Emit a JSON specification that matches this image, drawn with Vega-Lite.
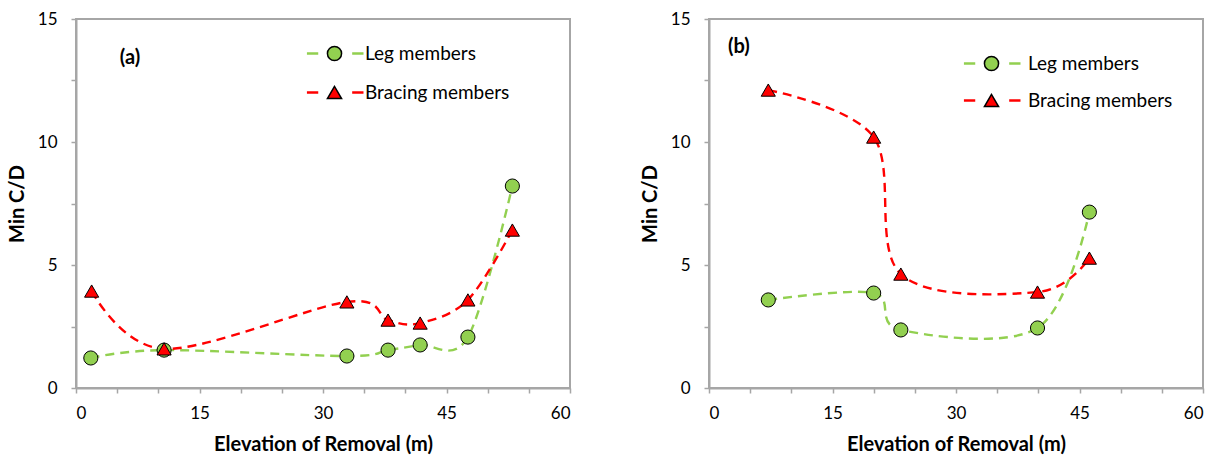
{
  "$schema": "https://vega.github.io/schema/vega-lite/v6.json",
  "padding": {"left": 6, "top": 9, "right": 5, "bottom": 5},
  "spacing": 67,
  "resolve": {
    "scale": {"stroke": "independent", "fill": "independent", "shape": "independent"},
    "legend": {"stroke": "independent", "fill": "independent", "shape": "independent"}
  },
  "config": {
    "font": "Lato",
    "view": {"stroke": "#a6a6a6", "strokeWidth": 2},
    "axis": {
      "domainColor": "#a6a6a6", "domainWidth": 2, "tickColor": "#a6a6a6", "tickWidth": 1.5, "tickSize": 5,
      "grid": false, "labelFont": "Lato", "labelFontSize": 17, "labelColor": "#000",
      "titleFont": "Lato", "titleFontSize": 20, "titleFontWeight": "bold", "titleColor": "#000"
    },
    "legend": {"labelFont": "Lato", "labelFontSize": 19, "labelColor": "#000", "title": null}
  },
  "datasets": {
    "pts": [
      {"panel": "a", "series": "Leg members", "x": 1.8, "y": 1.22},
      {"panel": "a", "series": "Leg members", "x": 10.7, "y": 1.54},
      {"panel": "a", "series": "Leg members", "x": 32.9, "y": 1.30},
      {"panel": "a", "series": "Leg members", "x": 37.9, "y": 1.54},
      {"panel": "a", "series": "Leg members", "x": 41.8, "y": 1.75},
      {"panel": "a", "series": "Leg members", "x": 47.6, "y": 2.07},
      {"panel": "a", "series": "Leg members", "x": 53.0, "y": 8.21},
      {"panel": "a", "series": "Bracing members", "x": 1.9, "y": 3.94},
      {"panel": "a", "series": "Bracing members", "x": 10.7, "y": 1.59},
      {"panel": "a", "series": "Bracing members", "x": 32.9, "y": 3.50},
      {"panel": "a", "series": "Bracing members", "x": 37.9, "y": 2.76},
      {"panel": "a", "series": "Bracing members", "x": 41.8, "y": 2.64},
      {"panel": "a", "series": "Bracing members", "x": 47.6, "y": 3.58},
      {"panel": "a", "series": "Bracing members", "x": 53.0, "y": 6.42},
      {"panel": "b", "series": "Leg members", "x": 7.2, "y": 3.58},
      {"panel": "b", "series": "Leg members", "x": 20.0, "y": 3.86},
      {"panel": "b", "series": "Leg members", "x": 23.3, "y": 2.36},
      {"panel": "b", "series": "Leg members", "x": 39.9, "y": 2.44},
      {"panel": "b", "series": "Leg members", "x": 46.2, "y": 7.15},
      {"panel": "b", "series": "Bracing members", "x": 7.2, "y": 12.11},
      {"panel": "b", "series": "Bracing members", "x": 20.0, "y": 10.2},
      {"panel": "b", "series": "Bracing members", "x": 23.3, "y": 4.63},
      {"panel": "b", "series": "Bracing members", "x": 39.9, "y": 3.9},
      {"panel": "b", "series": "Bracing members", "x": 46.2, "y": 5.28}
    ],
    "tags": [
      {"panel": "a", "t": "(a)", "x": 6.56, "y": 13.41},
      {"panel": "b", "t": "(b)", "x": 3.64, "y": 13.86}
    ]
  },
  "hconcat": [
    {
      "width": 494, "height": 369,
      "layer": [
        {
          "data": {"name": "pts"},
          "transform": [{"filter": "datum.panel === 'a'"}],
          "mark": {"type": "line", "interpolate": "cardinal", "strokeDash": [9, 6], "strokeWidth": 2.4},
          "encoding": {
            "x": {"field": "x", "type": "quantitative", "scale": {"domain": [0, 60], "nice": false},
                  "axis": {"values": [0,5,10,15,20,25,30,35,40,45,50,55,60], "labelExpr": "datum.value % 15 === 0 ? datum.label : ''", "labelPadding": 12, "titlePadding": 13, "title": "Elevation of Removal (m)"}},
            "y": {"field": "y", "type": "quantitative", "scale": {"domain": [0, 15], "nice": false},
                  "axis": {"values": [0,2.5,5,7.5,10,12.5,15], "labelExpr": "datum.value % 5 === 0 ? datum.label : ''", "labelPadding": 14, "titlePadding": 10, "title": "Min C/D"}},
            "stroke": {"field": "series", "type": "nominal", "scale": {"domain": ["Bracing members", "Leg members"], "range": ["#ff0000", "#92d050"]},
                       "legend": {"values": ["Leg members", "Bracing members"], "orient": "none", "legendX": 249, "legendY": 25, "rowPadding": 19, "symbolType": "M-3.9,0H-2.3M2.5,0H4.1", "symbolSize": 200, "symbolStrokeWidth": 2.5, "labelOffset": 21}}
          }
        },
        {
          "data": {"name": "pts"},
          "transform": [{"filter": "datum.panel === 'a'"}],
          "mark": {"type": "point", "filled": true, "stroke": "#000", "strokeWidth": 1, "opacity": 1, "size": 200},
          "encoding": {
            "x": {"field": "x", "type": "quantitative"},
            "y": {"field": "y", "type": "quantitative"},
            "fill": {"field": "series", "type": "nominal", "scale": {"domain": ["Leg members", "Bracing members"], "range": ["#92d050", "#ff0000"]},
                     "legend": {"orient": "none", "legendX": 249, "legendY": 25, "rowPadding": 19, "symbolSize": 200, "labelOffset": 21, "labelOpacity": 0,
                                "encode": {"symbols": {"update": {"stroke": {"value": "#000"}, "strokeWidth": {"value": 1}}}}}},
            "shape": {"field": "series", "type": "nominal", "scale": {"domain": ["Leg members", "Bracing members"], "range": ["circle", "triangle-up"]},
                      "legend": {"orient": "none", "legendX": 249, "legendY": 25, "rowPadding": 19, "symbolSize": 200, "labelOffset": 21, "labelOpacity": 0,
                                 "encode": {"symbols": {"update": {"stroke": {"value": "#000"}, "strokeWidth": {"value": 1}}}}}}
          }
        },
        {
          "data": {"name": "tags"},
          "transform": [{"filter": "datum.panel === 'a'"}],
          "mark": {"type": "text", "fontSize": 20, "fontWeight": "bold", "font": "Lato", "color": "#000"},
          "encoding": {
            "x": {"field": "x", "type": "quantitative"},
            "y": {"field": "y", "type": "quantitative"},
            "text": {"field": "t"}
          }
        }
      ]
    },
    {
      "width": 494, "height": 369,
      "layer": [
        {
          "data": {"name": "pts"},
          "transform": [{"filter": "datum.panel === 'b'"}],
          "mark": {"type": "line", "interpolate": "cardinal", "strokeDash": [9, 6], "strokeWidth": 2.4},
          "encoding": {
            "x": {"field": "x", "type": "quantitative", "scale": {"domain": [0, 60], "nice": false},
                  "axis": {"values": [0,5,10,15,20,25,30,35,40,45,50,55,60], "labelExpr": "datum.value % 15 === 0 ? datum.label : ''", "labelPadding": 12, "titlePadding": 13, "title": "Elevation of Removal (m)"}},
            "y": {"field": "y", "type": "quantitative", "scale": {"domain": [0, 15], "nice": false},
                  "axis": {"values": [0,2.5,5,7.5,10,12.5,15], "labelExpr": "datum.value % 5 === 0 ? datum.label : ''", "labelPadding": 14, "titlePadding": 10, "title": "Min C/D"}},
            "stroke": {"field": "series", "type": "nominal", "scale": {"domain": ["Bracing members", "Leg members"], "range": ["#ff0000", "#92d050"]},
                       "legend": {"values": ["Leg members", "Bracing members"], "orient": "none", "legendX": 273, "legendY": 35, "rowPadding": 17, "symbolType": "M-3.9,0H-2.3M2.5,0H4.1", "symbolSize": 200, "symbolStrokeWidth": 2.5, "labelOffset": 27}}
          }
        },
        {
          "data": {"name": "pts"},
          "transform": [{"filter": "datum.panel === 'b'"}],
          "mark": {"type": "point", "filled": true, "stroke": "#000", "strokeWidth": 1, "opacity": 1, "size": 200},
          "encoding": {
            "x": {"field": "x", "type": "quantitative"},
            "y": {"field": "y", "type": "quantitative"},
            "fill": {"field": "series", "type": "nominal", "scale": {"domain": ["Leg members", "Bracing members"], "range": ["#92d050", "#ff0000"]},
                     "legend": {"orient": "none", "legendX": 273, "legendY": 35, "rowPadding": 17, "symbolSize": 200, "labelOffset": 27, "labelOpacity": 0,
                                "encode": {"symbols": {"update": {"stroke": {"value": "#000"}, "strokeWidth": {"value": 1}}}}}},
            "shape": {"field": "series", "type": "nominal", "scale": {"domain": ["Leg members", "Bracing members"], "range": ["circle", "triangle-up"]},
                      "legend": {"orient": "none", "legendX": 273, "legendY": 35, "rowPadding": 17, "symbolSize": 200, "labelOffset": 27, "labelOpacity": 0,
                                 "encode": {"symbols": {"update": {"stroke": {"value": "#000"}, "strokeWidth": {"value": 1}}}}}}
          }
        },
        {
          "data": {"name": "tags"},
          "transform": [{"filter": "datum.panel === 'b'"}],
          "mark": {"type": "text", "fontSize": 20, "fontWeight": "bold", "font": "Lato", "color": "#000"},
          "encoding": {
            "x": {"field": "x", "type": "quantitative"},
            "y": {"field": "y", "type": "quantitative"},
            "text": {"field": "t"}
          }
        }
      ]
    }
  ]
}
